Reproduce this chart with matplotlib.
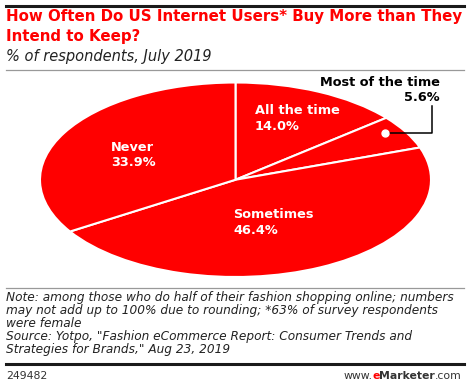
import numpy as np
import matplotlib
matplotlib.use("Agg")
import matplotlib.pyplot as plt
from matplotlib.lines import Line2D

categories = ["All the time", "Most of the time", "Sometimes", "Never"]
values = [14.0, 5.6, 46.4, 33.9]
value_labels = ["14.0%", "5.6%", "46.4%", "33.9%"]

RED = "#ff0000"
W, H = 470, 386


def fx(px):
    return px / W


def fy(py):
    return 1 - py / H


fig = plt.figure(figsize=(4.7, 3.86), dpi=100)

# rules
fig.add_artist(Line2D([fx(6), fx(464)], [fy(6), fy(6)], color="#1a1a1a", lw=2.2))
fig.add_artist(Line2D([fx(6), fx(464)], [fy(70), fy(70)], color="#999999", lw=0.9))
fig.add_artist(Line2D([fx(6), fx(464)], [fy(288), fy(288)], color="#999999", lw=0.9))
fig.add_artist(Line2D([fx(6), fx(464)], [fy(364), fy(364)], color="#1a1a1a", lw=2.2))

# titles
fig.text(fx(6), fy(17), "How Often Do US Internet Users* Buy More than They",
         color=RED, fontsize=10.8, fontweight="bold", va="center", ha="left")
fig.text(fx(6), fy(36), "Intend to Keep?",
         color=RED, fontsize=10.8, fontweight="bold", va="center", ha="left")
fig.text(fx(6), fy(57), "% of respondents, July 2019",
         color="#222222", fontsize=10.5, style="italic", va="center", ha="left")

# pie (ellipse: axes not equal aspect)
ax = fig.add_axes([fx(40), fy(277), fx(391), (277 - 82.5) / H])
ax.pie(values, startangle=90, counterclock=False, colors=[RED] * 4,
       wedgeprops=dict(edgecolor="white", linewidth=1.5))
ax.set_aspect("auto")
ax.set_xlim(-1, 1)
ax.set_ylim(-1, 1)
ax.axis("off")

lab = dict(color="white", fontsize=9.3, fontweight="bold", ha="left",
           va="center", linespacing=1.25)
ax.text(0.10, 0.63, f"{categories[0]}\n{value_labels[0]}", **lab)
ax.text(-0.637, 0.253, f"{categories[3]}\n{value_labels[3]}", **lab)
ax.text(-0.012, -0.438, f"{categories[2]}\n{value_labels[2]}", **lab)
ax.text(1.046, 0.923, f"{categories[1]}\n{value_labels[1]}", color="black",
        fontsize=9.3, fontweight="bold", ha="right", va="center",
        linespacing=1.25, multialignment="right", clip_on=False)

# leader for small slice
ax.plot([0.764, 1.005, 1.005], [0.485, 0.485, 0.763], color="black", lw=1.1,
        clip_on=False)
ax.plot([0.764], [0.485], "o", color="white", ms=5, clip_on=False)

# notes
notes = ("Note: among those who do half of their fashion shopping online; numbers\n"
         "may not add up to 100% due to rounding; *63% of survey respondents\n"
         "were female\n"
         "Source: Yotpo, \"Fashion eCommerce Report: Consumer Trends and\n"
         "Strategies for Brands,\" Aug 23, 2019")
fig.text(fx(6), fy(291), notes, color="#222222", fontsize=8.7, style="italic",
         va="top", ha="left", linespacing=1.0)

fs = 7.8
fig.text(fx(6), fy(376), "249482", color="#333333", fontsize=fs,
         va="center", ha="left")
t1 = fig.text(fx(462), fy(376), ".com", color="#333333", fontsize=fs,
              va="center", ha="right")
fig.canvas.draw()
r = fig.canvas.get_renderer()
bb = t1.get_window_extent(r)
t2 = fig.text(bb.x0 / W, fy(376), "Marketer", color="#333333", fontsize=fs,
              fontweight="bold", va="center", ha="right")
bb = t2.get_window_extent(r)
t3 = fig.text(bb.x0 / W, fy(376), "e", color=RED, fontsize=fs,
              fontweight="bold", va="center", ha="right")
bb = t3.get_window_extent(r)
fig.text(bb.x0 / W, fy(376), "www.", color="#333333", fontsize=fs,
         va="center", ha="right")

fig.savefig("out.png", dpi=100)
